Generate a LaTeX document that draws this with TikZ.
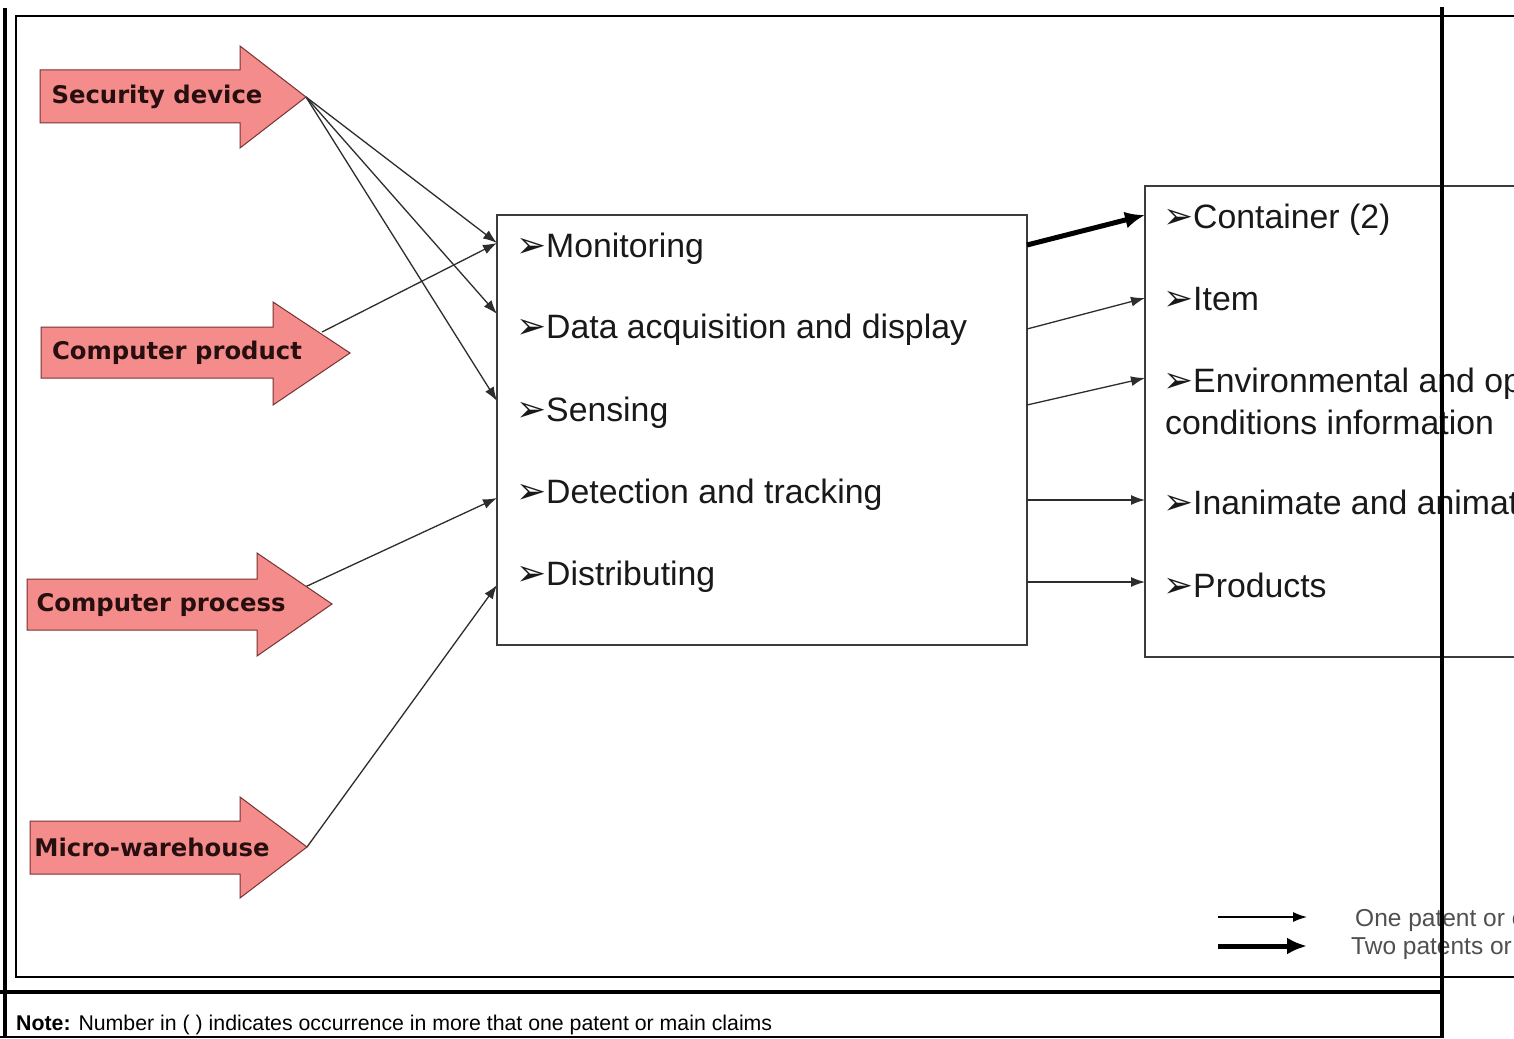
\documentclass[tikz,border=0pt]{standalone}
\usepackage{fontspec}
\setmainfont{Liberation Sans}
\newfontfamily\blockfont{DejaVu Sans}
\newfontfamily\bulfont{DejaVu Sans}
\usetikzlibrary{arrows.meta}
\definecolor{pinkfill}{RGB}{245,140,140}
\definecolor{pinkedge}{RGB}{120,50,50}
\definecolor{labeltext}{RGB}{40,15,15}
\definecolor{itemtext}{RGB}{25,25,25}
\definecolor{conncol}{RGB}{45,45,45}
\definecolor{boxcol}{RGB}{60,60,60}
\definecolor{legendtext}{RGB}{80,80,80}
\newcommand{\bul}{\makebox[30pt][l]{\bulfont\fontsize{36}{40}\selectfont ➢}}
\begin{document}
\begin{tikzpicture}[x=1pt,y=-1pt,
  blockarrow/.style={fill=pinkfill, draw=pinkedge, line width=1pt, line join=miter},
  blocklabel/.style={font=\blockfont\bfseries\fontsize{24.3}{28}\selectfont, text=labeltext, inner sep=0},
  item/.style={anchor=base west, inner sep=0, font=\fontsize{33.8}{40}\selectfont, text=itemtext},
  boxstyle/.style={draw=boxcol, line width=1.5pt, fill=white, inner sep=0},
  conn/.style={draw=conncol, line width=1.3pt, -{Latex[length=14pt,width=10pt]}},
  thickconn/.style={draw=black, line width=5pt, -{Latex[length=20pt,width=17pt]}},
  legendlabel/.style={anchor=base west, inner sep=0, font=\fontsize{24.5}{28}\selectfont, text=legendtext},
  frame/.style={draw=black, line width=2.5pt},
  heavyframe/.style={draw=black, line width=4pt}
]
\useasboundingbox (0,0) rectangle (1514,1038);
\clip (0,0) rectangle (1514,1038);
\fill[white] (0,0) rectangle (1514,1038);

% boxes
\node[boxstyle, minimum width=530pt, minimum height=430pt] (main) at (762,430) {};
\node[boxstyle, minimum width=555pt, minimum height=471pt] (targets) at (1422.5,421.5) {};

% main items
\node[item] (mon) at (516,257) {\bul Monitoring};
\node[item] (dat) at (516,338) {\bul Data acquisition and display};
\node[item] (sen) at (516,421) {\bul Sensing};
\node[item] (det) at (516,503) {\bul Detection and tracking};
\node[item] (dis) at (516,585) {\bul Distributing};

% target items
\node[item] (con) at (1163,228) {\bul Container (2)};
\node[item] (itm) at (1163,310) {\bul Item};
\node[item] (env) at (1163,392) {\bul Environmental and operational};
\node[item] (env2) at (1165,434) {conditions information};
\node[item] (ina) at (1163,514) {\bul Inanimate and animate objects};
\node[item] (pro) at (1163,597) {\bul Products};

% entry / exit coordinates
\coordinate (inMon) at (497,243);
\coordinate (inDat) at (497,314);
\coordinate (inSen) at (497,401);
\coordinate (inDet) at (497,498);
\coordinate (inDis) at (497,585);
\coordinate (outCon) at (1027,245);
\coordinate (outItm) at (1027,329);
\coordinate (outEnv) at (1027,405);
\coordinate (outIna) at (1027,500);
\coordinate (outPro) at (1027,582);
\coordinate (inCon) at (1145,215);
\coordinate (inItm) at (1145,298);
\coordinate (inEnv) at (1145,378);
\coordinate (inIna) at (1145,500);
\coordinate (inPro) at (1145,582);

% source tips
\coordinate (secTip) at (306,97);
\coordinate (cprodOut) at (322,332);
\coordinate (cprocOut) at (305,587);
\coordinate (microTip) at (307,847);

% connectors
\draw[conn] (secTip) -- (inMon);
\draw[conn] (secTip) -- (inDat);
\draw[conn] (secTip) -- (inSen);
\draw[conn] (cprodOut) -- (inMon);
\draw[conn] (cprocOut) -- (inDet);
\draw[conn] (microTip) -- (inDis);

\draw[thickconn] (outCon) -- (inCon);
\draw[conn] (outItm) -- (inItm);
\draw[conn] (outEnv) -- (inEnv);
\draw[conn] (outIna) -- (inIna);
\draw[conn] (outPro) -- (inPro);

% block arrows
\path[blockarrow] (40,70) -- (240,70) -- (240,46) -- (secTip) -- (240,148) -- (240,123) -- (40,123) -- cycle;
\node[blocklabel] (secLabel) at (157,97) {Security device};
\path[blockarrow] (41,327) -- (273,327) -- (273,302) -- (350,353) -- (273,405) -- (273,378) -- (41,378) -- cycle;
\node[blocklabel] (cprodLabel) at (177,353) {Computer product};
\path[blockarrow] (27,579) -- (257,579) -- (257,553) -- (332,604) -- (257,656) -- (257,630) -- (27,630) -- cycle;
\node[blocklabel] (cprocLabel) at (161,605) {Computer process};
\path[blockarrow] (30,821) -- (240,821) -- (240,797) -- (microTip) -- (240,898) -- (240,874) -- (30,874) -- cycle;
\node[blocklabel] (microLabel) at (152,847) {Micro-warehouse};

% legend
\coordinate (lgA1) at (1218,917);
\coordinate (lgA2) at (1307,917);
\coordinate (lgB1) at (1218,946);
\coordinate (lgB2) at (1307,946);
\draw[conn, draw=black] (lgA1) -- (lgA2);
\draw[thickconn] (lgB1) -- (lgB2);
\node[legendlabel] (lgOne) at (1355,926) {One patent or claim};
\node[legendlabel] (lgTwo) at (1351,954) {Two patents or claims};

% frames
\draw[frame] (1514,16) -- (16,16) -- (16,977) -- (1514,977);
\draw[heavyframe] (5,8) -- (5,1038);
\draw[heavyframe] (0,992) -- (1442,992);
\draw[frame] (0,1037) -- (1442,1037);
\draw[heavyframe] (1442,7) -- (1442,1038);

% note
\node[anchor=base west, inner sep=0, font=\fontsize{21.3}{25}\selectfont] (note) at (16,1030) {\textbf{Note:} Number in ( ) indicates occurrence in more that one patent or main claims};
\end{tikzpicture}
\end{document}
